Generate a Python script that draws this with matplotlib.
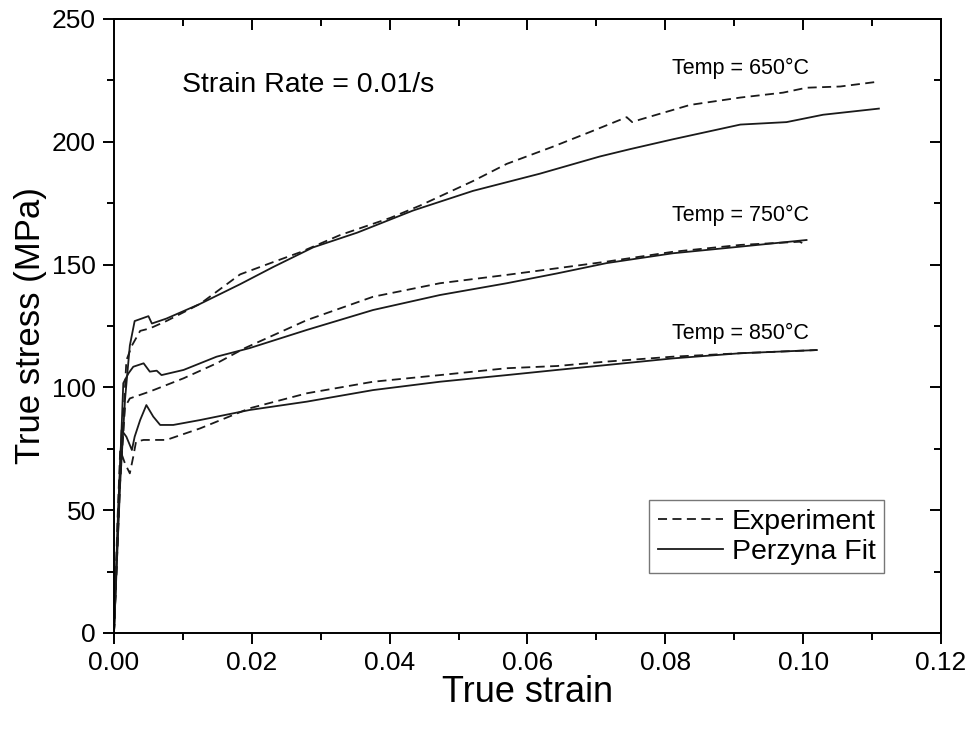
import matplotlib.pyplot as plt
from matplotlib.ticker import MultipleLocator

plt.rcParams['font.family'] = ['Liberation Sans', 'DejaVu Sans']

# 650 C
exp_650_x = [0, 0.0009, 0.0018, 0.0026, 0.0038, 0.0052, 0.0076, 0.0125, 0.0183, 0.0231, 0.027,
             0.0328, 0.0401, 0.0444, 0.0521, 0.057, 0.0637, 0.0691, 0.0744, 0.0752, 0.0763,
             0.0836, 0.0909, 0.0971, 0.1005, 0.1054, 0.111]
exp_650_y = [0, 62, 111, 117, 123, 124, 127, 134, 146, 151, 155,
             162, 169, 174, 184, 191, 198, 204, 210, 208, 209,
             215, 218, 220, 222, 222.5, 224.5]
fit_650_x = [0, 0.0009, 0.0016, 0.0023, 0.003, 0.005, 0.0055, 0.0076, 0.0125, 0.0183, 0.0231,
             0.0289, 0.0353, 0.0434, 0.0521, 0.0618, 0.0705, 0.0749, 0.0811, 0.0909, 0.0976,
             0.1029, 0.111]
fit_650_y = [0, 61, 95, 117, 127, 129, 126, 128, 134, 142, 149,
             157, 163, 172, 180, 187, 194, 197, 201, 207, 208,
             211, 213.5]

# 750 C
exp_750_x = [0, 0.0008, 0.0016, 0.0023, 0.0052, 0.0101, 0.0149, 0.019, 0.028, 0.0376, 0.0473,
             0.057, 0.0643, 0.0715, 0.0811, 0.0909, 0.0995, 0.1005]
exp_750_y = [0, 58, 92, 95.5, 98.3, 103.7, 109.8, 116, 127.4, 136.9, 142.4,
             145.8, 148.5, 151.2, 155.2, 158, 159.3, 158]
fit_750_x = [0, 0.0008, 0.00135, 0.0021, 0.0028, 0.0043, 0.0052, 0.0062, 0.0069, 0.0101, 0.0149,
             0.0197, 0.028, 0.0376, 0.0473, 0.057, 0.0643, 0.0715, 0.0811, 0.0909, 0.1005]
fit_750_y = [0, 60, 101.7, 105.7, 108.4, 109.8, 106.4, 106.8, 105, 107.1, 112.5,
             116, 123.4, 131.5, 137.6, 142.4, 146.4, 150.6, 154.6, 157.3, 160]

# 850 C
exp_850_x = [0, 0.0005, 0.0009, 0.0016, 0.0023, 0.0028, 0.0032, 0.0043, 0.0076, 0.0125, 0.0197,
             0.028, 0.0376, 0.0473, 0.057, 0.0643, 0.0715, 0.0811, 0.0909, 0.102]
exp_850_y = [0, 45, 74.5, 69, 65, 71.8, 77.9, 78.6, 78.6, 83.3, 91.5,
             97.6, 102.3, 105, 107.8, 108.7, 110.5, 112.5, 113.9, 115.2]
fit_850_x = [0, 0.0006, 0.0011, 0.0018, 0.0026, 0.003, 0.0038, 0.0047, 0.0057, 0.0067, 0.0086,
             0.0125, 0.0197, 0.028, 0.0376, 0.0473, 0.057, 0.0643, 0.0715, 0.0811, 0.0909, 0.102]
fit_850_y = [0, 50, 82.6, 79.9, 74.5, 79.9, 86.7, 92.8, 88.1, 84.7, 84.7,
             86.7, 90.8, 94.2, 98.9, 102.3, 105, 107.1, 109.1, 111.8, 113.9, 115.2]

temp_labels = ['Temp = 650°C', 'Temp = 750°C', 'Temp = 850°C']
temp_label_pos = [(0.0909, 230), (0.0909, 170), (0.0909, 122)]

fig = plt.figure(figsize=(9.7, 7.29), dpi=100)
ax = fig.add_axes([0.1175, 0.1317, 0.8525, 0.8423])

dash = (0, (5, 3))
lc = '#1a1a1a'
lw = 1.3
ax.plot(exp_650_x, exp_650_y, linestyle=dash, color=lc, lw=lw, label='Experiment')
ax.plot(fit_650_x, fit_650_y, '-', color=lc, lw=lw, label='Perzyna Fit')
ax.plot(exp_750_x, exp_750_y, linestyle=dash, color=lc, lw=lw)
ax.plot(fit_750_x, fit_750_y, '-', color=lc, lw=lw)
ax.plot(exp_850_x, exp_850_y, linestyle=dash, color=lc, lw=lw)
ax.plot(fit_850_x, fit_850_y, '-', color=lc, lw=lw)

for txt, (tx, ty) in zip(temp_labels, temp_label_pos):
    ax.text(tx, ty, txt, ha='center', va='center', fontsize=15.5)
ax.text(0.0098, 223, 'Strain Rate = 0.01/s', ha='left', va='center', fontsize=20.5)

ax.set_xlim(0, 0.12)
ax.set_ylim(0, 250)
ax.xaxis.set_major_locator(MultipleLocator(0.02))
ax.xaxis.set_minor_locator(MultipleLocator(0.01))
ax.yaxis.set_major_locator(MultipleLocator(50))
ax.yaxis.set_minor_locator(MultipleLocator(25))
ax.xaxis.set_major_formatter(plt.FuncFormatter(lambda v, p: f'{v:.2f}'))
ax.tick_params(which='major', direction='out', length=8, width=1.4, labelsize=19, pad=5)
ax.tick_params(which='minor', direction='out', length=5, width=1.4)

# mirrored inward ticks on top and right
top = ax.secondary_xaxis('top')
top.xaxis.set_major_locator(MultipleLocator(0.02))
top.xaxis.set_minor_locator(MultipleLocator(0.01))
top.tick_params(which='major', direction='in', length=8, width=1.4, labeltop=False)
top.tick_params(which='minor', direction='in', length=5, width=1.4)
right = ax.secondary_yaxis('right')
right.yaxis.set_major_locator(MultipleLocator(50))
right.yaxis.set_minor_locator(MultipleLocator(25))
right.tick_params(which='major', direction='in', length=8, width=1.4, labelright=False)
right.tick_params(which='minor', direction='in', length=5, width=1.4)
for sp in list(ax.spines.values()) + [top.spines['top'], right.spines['right']]:
    sp.set_linewidth(1.4)

ax.set_xlabel('True strain', fontsize=26, labelpad=0)
ax.set_ylabel('True stress (MPa)', fontsize=25, labelpad=3.5)

leg = ax.legend(loc='upper left', bbox_to_anchor=(0.647, 0.2166), fontsize=20.5, frameon=True,
                fancybox=False, handlelength=2.3, handletextpad=0.3, borderpad=0.3,
                labelspacing=0.15, borderaxespad=0)
leg.get_frame().set_edgecolor('#555555')
leg.get_frame().set_linewidth(1.0)

fig.savefig('out.png', dpi=100)
